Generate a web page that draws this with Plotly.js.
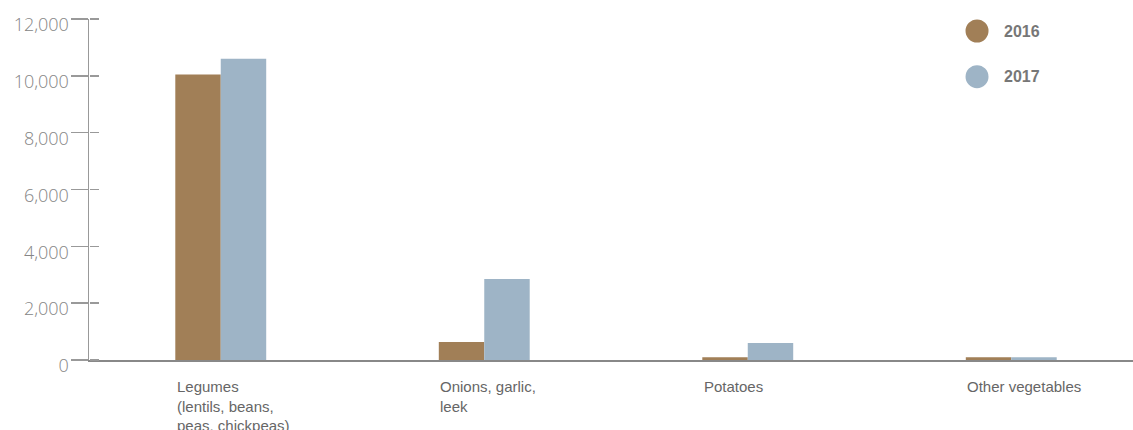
<!DOCTYPE html>
<html>
<head>
<meta charset="utf-8">
<script src="https://cdn.plot.ly/plotly-3.0.1.min.js"></script>
<style>html,body{margin:0;padding:0;background:#fff;}#chart{width:1133px;height:430px;}</style>
</head>
<body>
<div id="chart"></div>
<script>
// ---- data ----
var categories = ['Legumes', 'Onions', 'Potatoes', 'Other'];
var categoryLabels = ['Legumes<br>(lentils, beans,<br>peas, chickpeas)', 'Onions, garlic,<br>leek', 'Potatoes', 'Other vegetables'];
var seriesNames = ['2016', '2017'];
var values2016 = [10050, 630, 100, 100];
var values2017 = [10600, 2850, 600, 100];
var seriesColors = ['#A17F57', '#9EB4C6'];
var yTickVals = [0, 2000, 4000, 6000, 8000, 10000, 12000];
var yTickText = ['0', '2,000', '4,000', '6,000', '8,000', '10,000', '12,000'];

var traces = [
  {type: 'bar', name: seriesNames[0], x: categories, y: values2016, marker: {color: seriesColors[0]}, showlegend: false, hoverinfo: 'x+y'},
  {type: 'bar', name: seriesNames[1], x: categories, y: values2017, marker: {color: seriesColors[1]}, showlegend: false, hoverinfo: 'x+y'},
  // invisible helper trace so the overlay axis (inner tick marks) is drawn
  {type: 'scatter', mode: 'none', x: categories, y: values2017, yaxis: 'y2', showlegend: false, hoverinfo: 'skip'}
];

var annotations = categories.map(function (c, i) {
  return {
    x: c, xref: 'x', y: 0, yref: 'paper',
    xanchor: 'left', yanchor: 'top', align: 'left',
    xshift: -46, yshift: -16,
    text: categoryLabels[i], showarrow: false,
    font: {family: 'Liberation Sans, Arial, sans-serif', size: 15, color: '#666666'}
  };
});

// custom legend (large circles)
var legendY = [0.9648, 0.8308];
var shapes = [];
seriesNames.forEach(function (n, i) {
  shapes.push({
    type: 'circle', xref: 'paper', yref: 'paper',
    xsizemode: 'pixel', ysizemode: 'pixel',
    xanchor: 0.8506, yanchor: legendY[i],
    x0: -11.5, x1: 11.5, y0: -11.5, y1: 11.5,
    fillcolor: seriesColors[i], line: {width: 0}
  });
  annotations.push({
    x: 0.8745, xref: 'paper', y: legendY[i], yref: 'paper',
    xanchor: 'left', yanchor: 'middle', showarrow: false,
    text: '<b>' + n + '</b>',
    font: {family: 'Liberation Sans, Arial, sans-serif', size: 16, color: '#777777'}
  });
});

var layout = {
  width: 1133, height: 430,
  margin: {l: 89, r: 0, t: 19, b: 70, pad: 0},
  paper_bgcolor: '#ffffff', plot_bgcolor: '#ffffff',
  barmode: 'group', bargap: 0.655, bargroupgap: 0,
  showlegend: false,
  xaxis: {
    type: 'category', range: [-0.5, 3.462],
    showline: true, linecolor: '#888888', linewidth: 1.5,
    ticks: '', showticklabels: false, showgrid: false, zeroline: false, fixedrange: true
  },
  yaxis: {
    range: [0, 12000], tickvals: yTickVals, ticktext: yTickText,
    showline: true, linecolor: '#999999', linewidth: 1.5,
    ticks: 'outside', ticklen: 17, tickcolor: '#999999', tickwidth: 1.5,
    ticklabelshift: 6, ticklabelstandoff: -2,
    showgrid: false, zeroline: false, fixedrange: true,
    tickfont: {family: 'Open Sans, Liberation Sans, sans-serif', size: 18, color: '#858585', weight: 300}
  },
  yaxis2: {
    overlaying: 'y', anchor: 'free', position: 0, side: 'right', range: [0, 12000], tickvals: yTickVals,
    showticklabels: false, ticks: 'outside', ticklen: 9, tickcolor: '#999999', tickwidth: 1.5,
    showline: false, showgrid: false, zeroline: false, fixedrange: true
  },
  shapes: shapes,
  annotations: annotations
};

Plotly.newPlot('chart', traces, layout, {displayModeBar: false, staticPlot: true});
</script>
</body>
</html>
